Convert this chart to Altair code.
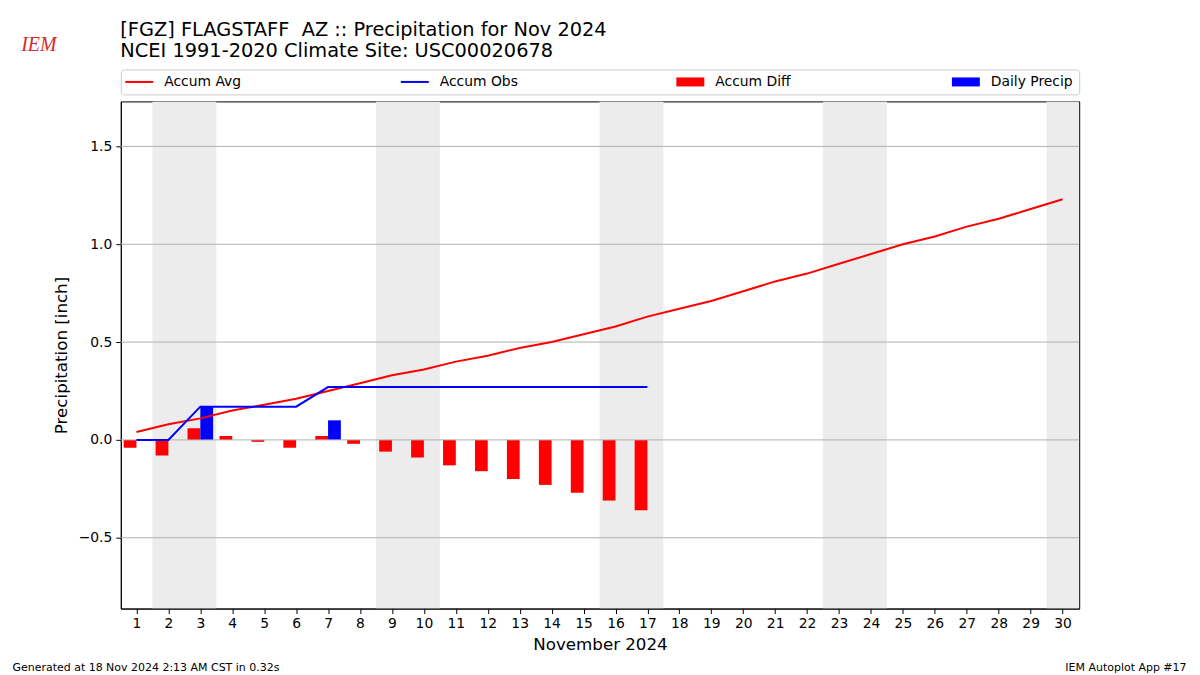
import altair as alt
import pandas as pd

# ---------------- data ----------------
days = list(range(1, 31))
accum_avg = [0.04, 0.08, 0.11, 0.15, 0.18, 0.21, 0.25, 0.29, 0.33, 0.36,
             0.40, 0.43, 0.47, 0.50, 0.54, 0.58, 0.63, 0.67, 0.71, 0.76,
             0.81, 0.85, 0.90, 0.95, 1.00, 1.04, 1.09, 1.13, 1.18, 1.23]
obs_days = list(range(1, 18))
accum_obs = [0.0, 0.0, 0.17, 0.17, 0.17, 0.17, 0.27, 0.27, 0.27, 0.27,
             0.27, 0.27, 0.27, 0.27, 0.27, 0.27, 0.27]
daily_precip = [0.0, 0.0, 0.17, 0.0, 0.0, 0.0, 0.10, 0.0, 0.0, 0.0,
                0.0, 0.0, 0.0, 0.0, 0.0, 0.0, 0.0]
accum_diff = [-0.04, -0.08, 0.06, 0.02, -0.01, -0.04, 0.02, -0.02, -0.06, -0.09,
              -0.13, -0.16, -0.20, -0.23, -0.27, -0.31, -0.36]
weekend_days = [2, 3, 9, 10, 16, 17, 23, 24, 30]
y_ticks = [-0.5, 0.0, 0.5, 1.0, 1.5]

legend_labels = ["Accum Avg", "Accum Obs", "Accum Diff", "Daily Precip"]
legend_kinds = ["line", "line", "bar", "bar"]
legend_colors = ["#ff0000", "#0000ff", "#ff0000", "#0000ff"]

title_lines = ["[FGZ] FLAGSTAFF\u00a0 AZ :: Precipitation for Nov 2024",
               "NCEI 1991-2020 Climate Site: USC00020678"]
footer_left = "Generated at 18 Nov 2024 2:13 AM CST in 0.32s"
footer_right = "IEM Autoplot App #17"
x_title = "November 2024"
y_title = "Precipitation [inch]"

FONT = "DejaVu Sans"
RED = "#ff0000"
BLUE = "#0000ff"

# ---------------- tables ----------------
avg_df = pd.DataFrame({"day": days, "val": accum_avg})
obs_df = pd.DataFrame({"day": obs_days, "obs": accum_obs,
                       "precip": daily_precip, "diff": accum_diff})

# merge consecutive weekend days into continuous shaded spans
spans = []
for d in weekend_days:
    if spans and d == spans[-1][1] + 1:
        spans[-1][1] = d
    else:
        spans.append([d, d])
wk_df = pd.DataFrame({"first": [s[0] for s in spans], "last": [s[1] for s in spans]})
grid_df = pd.DataFrame({"v": y_ticks})
leg_df = pd.DataFrame({"idx": list(range(len(legend_labels))), "label": legend_labels,
                       "kind": legend_kinds, "color": legend_colors})

x_scale = alt.Scale(domain=[0.51, 30.52], nice=False, zero=False)
y_scale = alt.Scale(domain=[-0.862, 1.73], nice=False, zero=False)
x_axis = alt.Axis(values=days, format="d", title=x_title, grid=False,
                  labelFontSize=13.9, titleFontSize=16.7, tickSize=5, labelPadding=3,
                  titlePadding=6.5, labelFlush=False)
y_axis = alt.Axis(values=y_ticks, format=".1f", title=y_title, grid=False,
                  labelFontSize=13.9, titleFontSize=16.7, tickSize=5, labelPadding=4,
                  titlePadding=8)


def xq(field):
    return alt.X(field, type="quantitative", scale=x_scale, axis=x_axis)


def yq(field):
    return alt.Y(field, type="quantitative", scale=y_scale, axis=y_axis)


bands = alt.Chart(wk_df).transform_calculate(
    x0="datum.first - 0.5", x1="datum.last + 0.5"
).mark_rect(color="#ececec", clip=True).encode(
    x=xq("x0"), x2="x1:Q"
)

diff_bars = alt.Chart(obs_df).transform_calculate(
    x0="datum.day - 0.4", z="0"
).mark_rect(color=RED, clip=True).encode(
    x=xq("x0"), x2="day:Q", y=yq("diff"), y2="z:Q"
)

precip_bars = alt.Chart(obs_df).transform_filter("datum.precip > 0").transform_calculate(
    x1="datum.day + 0.4", z="0"
).mark_rect(color=BLUE, clip=True).encode(
    x=xq("day"), x2="x1:Q", y=yq("precip"), y2="z:Q"
)

grid = alt.Chart(grid_df).mark_rule(color="#b0b0b0", strokeWidth=1).encode(
    y=yq("v")
)

avg_line = alt.Chart(avg_df).mark_line(color=RED, strokeWidth=2).encode(
    x=xq("day"), y=yq("val")
)
obs_line = alt.Chart(obs_df).mark_line(color=BLUE, strokeWidth=2).encode(
    x=xq("day"), y=yq("obs")
)

foot_l = alt.Chart(pd.DataFrame({"t": [footer_left]})).mark_text(
    align="left", baseline="middle", fontSize=11, font=FONT, color="black"
).encode(text="t:N", x=alt.value(-108.5), y=alt.value(568))
foot_r = alt.Chart(pd.DataFrame({"t": [footer_right]})).mark_text(
    align="right", baseline="middle", fontSize=11, font=FONT, color="black"
).encode(text="t:N", x=alt.value(1067.5), y=alt.value(568))

main = alt.layer(bands, diff_bars, precip_bars, grid, avg_line, obs_line, foot_l, foot_r).properties(
    width=960, height=508,
    view=alt.ViewBackground(stroke="black", strokeWidth=1, fill="white")
)

# ---------------- legend strip, title, logo ----------------
leg_scale = alt.Scale(domain=[-0.0163, 3.462], nice=False, zero=False)
leg_base = alt.Chart(leg_df).transform_calculate(
    s0="datum.idx", s1="datum.idx + 0.1014", tx="datum.idx + 0.1413"
)
leg_lines = leg_base.transform_filter("datum.kind == 'line'").mark_rule(strokeWidth=2).encode(
    x=alt.X("s0:Q", scale=leg_scale, axis=None), x2="s1:Q",
    y=alt.value(12.5), color=alt.Color("color:N", scale=None)
)
leg_rects = leg_base.transform_filter("datum.kind == 'bar'").mark_rect().encode(
    x=alt.X("s0:Q", scale=leg_scale, axis=None), x2="s1:Q",
    y=alt.value(8), y2=alt.value(17), color=alt.Color("color:N", scale=None)
)
leg_text = leg_base.mark_text(align="left", baseline="middle", fontSize=13.9, font=FONT,
                              color="black").encode(
    x=alt.X("tx:Q", scale=leg_scale, axis=None), y=alt.value(12.5), text="label:N"
)
logo = alt.Chart(pd.DataFrame({"t": ["IEM"]})).mark_text(
    align="center", baseline="middle", fontSize=20, font="Liberation Serif",
    fontStyle="italic", color="#d42b2b"
).encode(text="t:N", x=alt.value(-82), y=alt.value(-24))
title1 = alt.Chart(pd.DataFrame({"t": [title_lines[0]]})).mark_text(
    align="left", baseline="middle", fontSize=19.4, font=FONT, color="black"
).encode(text="t:N", x=alt.value(-0.5), y=alt.value(-40))
title2 = alt.Chart(pd.DataFrame({"t": [title_lines[1]]})).mark_text(
    align="left", baseline="middle", fontSize=19.4, font=FONT, color="black"
).encode(text="t:N", x=alt.value(-0.5), y=alt.value(-18))

legend = alt.layer(leg_lines, leg_rects, leg_text, logo, title1, title2).properties(
    width=960, height=25,
    view=alt.ViewBackground(stroke="#cccccc", strokeWidth=1, cornerRadius=3, fill="white")
)

chart = alt.vconcat(legend, main, spacing=5).properties(
    padding={"left": 4, "top": 10, "right": 5, "bottom": 5}
).configure(font=FONT).configure_axis(
    domainColor="black", tickColor="black", labelColor="black", titleColor="black",
    titleFontWeight="normal", labelFont=FONT, titleFont=FONT
)

chart.save("out.html", embed_options={"renderer": "svg", "actions": False})
